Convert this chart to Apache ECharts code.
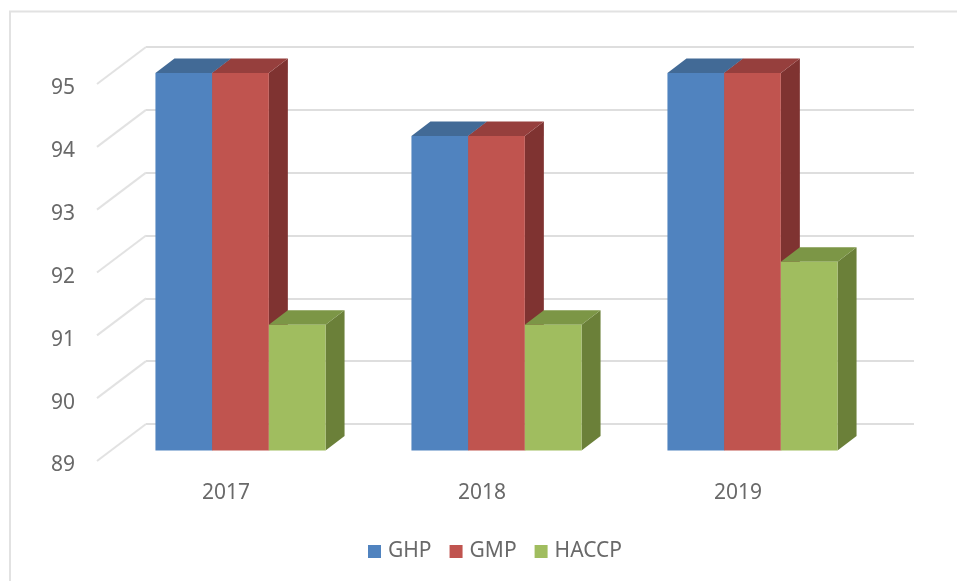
<!DOCTYPE html>
<html>
<head>
<meta charset="utf-8">
<style>
  html, body { margin: 0; padding: 0; background: #fff; }
  #chart { width: 957px; height: 581px; }
</style>
</head>
<body>
<div id="chart"></div>
<script src="https://cdn.jsdelivr.net/npm/echarts@6/dist/echarts.min.js"></script>
<script>
const years = ['2017', '2018', '2019']
const yTicks = [89, 90, 91, 92, 93, 94, 95]
const ghp = [95, 94, 95]
const gmp = [95, 94, 95]
const haccp = [91, 91, 92]

const fontFamily = '"Noto Sans", sans-serif'
const labelColor = '#696969'

// depth of a bar box, and of the whole floor
const barDx = 19
const barDy = 14.5
const wallDx = 49
const wallDy = 37
const barShare = 0.2215

// one box per data item: front, top and side faces
const box3d = (index, front, top, side) => (params, api) => {
  const band = api.size([1, 0])[0]
  const w = band * barShare
  const base = api.coord([api.value(0), 89])
  const head = api.coord([api.value(0), api.value(1)])
  const x0 = base[0] + (index - 1.5) * w
  const x1 = x0 + w
  const y0 = base[1]
  const y1 = head[1]
  const poly = (points, fill) => ({
    type: 'polygon',
    shape: { points },
    style: { fill }
  })
  return {
    type: 'group',
    children: [
      poly([[x1, y0], [x1 + barDx, y0 - barDy], [x1 + barDx, y1 - barDy], [x1, y1]], side),
      poly([[x0, y1], [x0 + barDx, y1 - barDy], [x1 + barDx, y1 - barDy], [x1, y1]], top),
      poly([[x0, y0], [x1, y0], [x1, y1], [x0, y1]], front)
    ]
  }
}

const barSeries = (name, values, index, front, top, side) => ({
  name,
  type: 'custom',
  xAxisIndex: 0,
  yAxisIndex: 0,
  itemStyle: { color: front },
  encode: { x: 0, y: 1 },
  data: values.map((v, i) => [i, v]),
  renderItem: box3d(index, front, top, side),
  z: 5
})

const chart = echarts.init(document.getElementById('chart'))
chart.setOption({
  animation: false,
  backgroundColor: '#fff',
  graphic: [
    {
      type: 'polyline',
      shape: { points: [[10, 581], [10, 11.5], [957, 11.5]] },
      style: { stroke: '#e2e2e2', lineWidth: 2, fill: null }
    }
  ],
  legend: {
    left: 363,
    top: 536,
    icon: 'rect',
    itemWidth: 13,
    itemHeight: 13,
    itemGap: 18,
    textStyle: { color: labelColor, fontFamily, fontSize: 21, padding: [0, 0, 0, 2] },
    data: ['GHP', 'GMP', 'HACCP']
  },
  grid: [
    // plane of the bars' front faces
    { left: 112.5, right: 76.5, top: 73, bottom: 130.5 },
    // front edge of the floor, carries the labels
    { left: 98, right: 91, top: 88, bottom: 115.5 },
    // back wall, carries the gridlines
    { left: 146, right: 43, top: 47, bottom: 157 }
  ],
  xAxis: [
    { type: 'category', gridIndex: 0, data: years, show: false },
    {
      type: 'category',
      gridIndex: 1,
      data: years,
      axisLine: { show: false },
      axisTick: { show: false },
      axisLabel: { color: labelColor, fontFamily, fontSize: 21, margin: 17 }
    },
    { type: 'category', gridIndex: 2, data: years, show: false }
  ],
  yAxis: [
    { type: 'value', gridIndex: 0, min: 89, max: 95, interval: 1, show: false },
    {
      type: 'value',
      gridIndex: 1,
      min: 89,
      max: 95,
      interval: 1,
      axisLine: { show: false },
      axisTick: { show: false },
      splitLine: { show: false },
      axisLabel: { color: labelColor, fontFamily, fontSize: 21, margin: 23 }
    },
    {
      type: 'value',
      gridIndex: 2,
      min: 89,
      max: 95,
      interval: 1,
      axisLine: { show: false },
      axisTick: { show: false },
      axisLabel: { show: false },
      splitLine: { show: true, lineStyle: { color: '#dedede', width: 2 } }
    }
  ],
  series: [
    // side wall lines, one per tick
    {
      type: 'custom',
      xAxisIndex: 2,
      yAxisIndex: 2,
      silent: true,
      data: yTicks.map((v) => [0, v]),
      encode: { x: 0, y: 1 },
      renderItem: (params, api) => {
        const x = params.coordSys.x
        const y = api.coord([0, api.value(1)])[1]
        return {
          type: 'line',
          shape: { x1: x, y1: y, x2: x - wallDx, y2: y + wallDy },
          style: { stroke: '#e2e2e2', lineWidth: 2 }
        }
      },
      z: 1
    },
    barSeries('GHP', ghp, 0, '#5083bf', '#426a96', '#3a5f8b'),
    barSeries('GMP', gmp, 1, '#c0544f', '#963f3d', '#7f3331'),
    barSeries('HACCP', haccp, 2, '#a0bd5f', '#7c9646', '#6b8039')
  ]
})
</script>
</body>
</html>
